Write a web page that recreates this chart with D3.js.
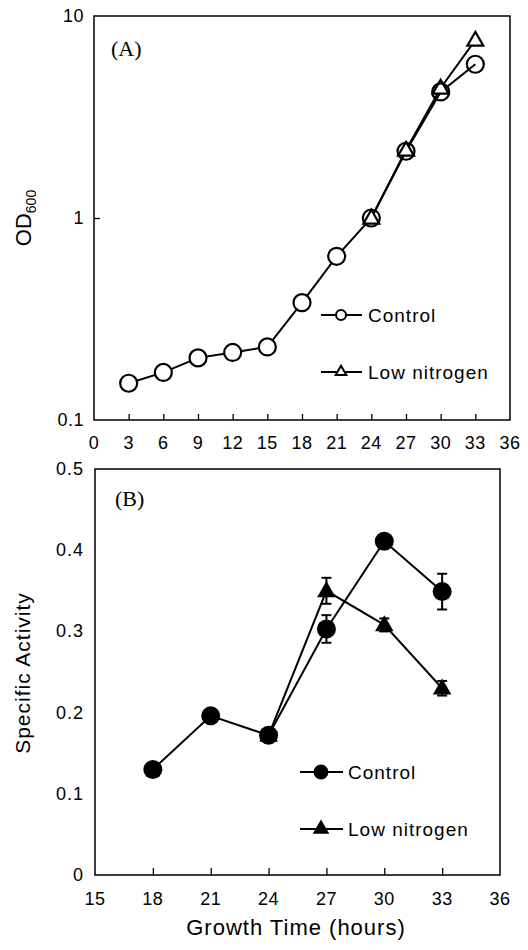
<!DOCTYPE html>
<html><head><meta charset="utf-8">
<script src="https://cdn.jsdelivr.net/npm/d3@7"></script>
<style>body{margin:0;background:#fff}svg{display:block}text{font-family:"Liberation Sans",Arial,sans-serif;fill:#000}</style>
</head><body><svg id="c" width="528" height="950"></svg>
<script>
// Panel A data
const hoursA = [3, 6, 9, 12, 15, 18, 21, 24, 27, 30, 33];
const odControl = [0.152, 0.172, 0.203, 0.216, 0.230, 0.381, 0.646, 1.0, 2.14, 4.21, 5.77];
const hoursALow = [24, 27, 30, 33];
const odLow = [1.0, 2.17, 4.4, 7.6];
const xTicksA = [0, 3, 6, 9, 12, 15, 18, 21, 24, 27, 30, 33, 36];
const yTicksA = [0.1, 1, 10];
// Panel B data
const hoursB = [18, 21, 24, 27, 30, 33];
const actControl = [0.130, 0.196, 0.172, 0.303, 0.411, 0.349];
const errControl = [0.006, 0.004, 0.005, 0.017, 0.004, 0.022];
const hoursBLow = [24, 27, 30, 33];
const actLow = [0.172, 0.350, 0.308, 0.230];
const errLow = [0.004, 0.016, 0.008, 0.009];
const xTicksB = [15, 18, 21, 24, 27, 30, 33, 36];
const yTicksB = [0, 0.1, 0.2, 0.3, 0.4, 0.5];

const svg = d3.select("#c");
const LS = "letter-spacing:0.5px";

// ---------- Panel A ----------
const A = {l: 94, r: 510, t: 16, b: 420};
const xA = d3.scaleLinear().domain([0, 36]).range([A.l, A.r]);
const yA = d3.scaleLog().domain([0.1, 10]).range([A.b, A.t]);
const gA = svg.append("g");
gA.append("rect").attr("x", A.l).attr("y", A.t).attr("width", A.r - A.l).attr("height", A.b - A.t)
  .attr("fill", "none").attr("stroke", "#000").attr("stroke-width", 1.5);
gA.append("g").attr("transform", `translate(0,${A.b})`)
  .call(d3.axisTop(xA).tickValues(xTicksA.filter(d => d > 0 && d < 36)).tickSize(6).tickFormat(""))
  .call(g => g.select(".domain").remove())
  .call(g => g.selectAll("line").attr("stroke-width", 1.3));
gA.selectAll(".xla").data(xTicksA).join("text").attr("class", "xla")
  .attr("x", d => xA(d)).attr("y", A.b + 29).attr("text-anchor", "middle").attr("font-size", 18).attr("style", LS).text(d => d);
gA.append("g").attr("transform", `translate(${A.l},0)`)
  .call(d3.axisRight(yA).tickValues([1]).tickSize(6).tickFormat(""))
  .call(g => g.select(".domain").remove())
  .call(g => g.selectAll("line").attr("stroke-width", 1.3));
gA.selectAll(".yla").data(yTicksA).join("text").attr("class", "yla")
  .attr("x", A.l - 10).attr("y", d => yA(d) + 6).attr("text-anchor", "end").attr("font-size", 18).attr("style", LS).text(d => d);
const tA = gA.append("text").attr("transform", `translate(31,218) rotate(-90)`).attr("text-anchor", "middle").attr("font-size", 22);
tA.append("tspan").text("OD");
tA.append("tspan").attr("font-size", 14).attr("dy", 5).text("600");
gA.append("text").attr("x", 111).attr("y", 56).attr("style", "font-family:'Liberation Serif',serif").attr("font-size", 22).text("(A)");

const lineA = d3.line().x(d => xA(d[0])).y(d => yA(d[1]));
const ctlA = hoursA.map((h, i) => [h, odControl[i]]);
const lowA = hoursALow.map((h, i) => [h, odLow[i]]);
gA.append("path").attr("d", lineA(lowA)).attr("fill", "none").attr("stroke", "#000").attr("stroke-width", 2);
gA.append("path").attr("d", lineA(ctlA)).attr("fill", "none").attr("stroke", "#000").attr("stroke-width", 2);
const triA = d3.symbol().type(d3.symbolTriangle).size(110);
gA.selectAll(".tA").data(lowA).join("path").attr("class", "tA")
  .attr("transform", d => `translate(${xA(d[0])},${yA(d[1]) + 1})`).attr("d", triA())
  .attr("fill", "#fff").attr("stroke", "#000").attr("stroke-width", 2.2);
gA.selectAll(".cA").data(ctlA).join("circle").attr("class", "cA")
  .attr("cx", d => xA(d[0])).attr("cy", d => yA(d[1])).attr("r", 8.5)
  .attr("fill", d => d[0] >= 24 ? "none" : "#fff").attr("stroke", "#000").attr("stroke-width", 2.2);
const legA = [{y: 315, label: "Control", kind: "c"}, {y: 372, label: "Low nitrogen", kind: "t"}];
legA.forEach(e => {
  gA.append("line").attr("x1", 321).attr("x2", 362).attr("y1", e.y).attr("y2", e.y).attr("stroke", "#000").attr("stroke-width", 2);
  if (e.kind === "c") gA.append("circle").attr("cx", 341).attr("cy", e.y).attr("r", 5).attr("fill", "#fff").attr("stroke", "#000").attr("stroke-width", 2);
  else gA.append("path").attr("transform", `translate(341,${e.y})`).attr("d", d3.symbol().type(d3.symbolTriangle).size(50)()).attr("fill", "#fff").attr("stroke", "#000").attr("stroke-width", 2);
  gA.append("text").attr("x", 368).attr("y", e.y + 7).attr("font-size", 19).attr("style", "letter-spacing:1px").text(e.label);
});

// ---------- Panel B ----------
const B = {l: 95, r: 500, t: 469, b: 875};
const xB = d3.scaleLinear().domain([15, 36]).range([B.l, B.r]);
const yB = d3.scaleLinear().domain([0, 0.5]).range([B.b, B.t]);
const gB = svg.append("g");
gB.append("rect").attr("x", B.l).attr("y", B.t).attr("width", B.r - B.l).attr("height", B.b - B.t)
  .attr("fill", "none").attr("stroke", "#000").attr("stroke-width", 1.5);
gB.append("g").attr("transform", `translate(0,${B.b})`)
  .call(d3.axisTop(xB).tickValues(xTicksB.filter(d => d > 15 && d < 36)).tickSize(7).tickFormat(""))
  .call(g => g.select(".domain").remove())
  .call(g => g.selectAll("line").attr("stroke-width", 1.3));
gB.selectAll(".xlb").data(xTicksB).join("text").attr("class", "xlb")
  .attr("x", d => xB(d)).attr("y", B.b + 30).attr("text-anchor", "middle").attr("font-size", 18).attr("style", LS).text(d => d);
gB.selectAll(".ylb").data(yTicksB).join("text").attr("class", "ylb")
  .attr("x", B.l - 11).attr("y", d => yB(d) + 6).attr("text-anchor", "end").attr("font-size", 18).attr("style", "letter-spacing:1px").text(d => d === 0 ? "0" : d.toFixed(1));
gB.append("text").attr("transform", `translate(30,673) rotate(-90)`).attr("text-anchor", "middle").attr("font-size", 21).attr("style", "letter-spacing:1px").text("Specific Activity");
gB.append("text").attr("x", 296).attr("y", 935).attr("text-anchor", "middle").attr("font-size", 22).attr("style", "letter-spacing:1px").text("Growth Time (hours)");
gB.append("text").attr("x", 115).attr("y", 506).attr("style", "font-family:'Liberation Serif',serif").attr("font-size", 22).text("(B)");

const lineB = d3.line().x(d => xB(d[0])).y(d => yB(d[1]));
const ctlB = hoursB.map((h, i) => [h, actControl[i], errControl[i]]);
const lowB = hoursBLow.map((h, i) => [h, actLow[i], errLow[i]]);
[ctlB, lowB].forEach(s => {
  gB.append("path").attr("d", lineB(s)).attr("fill", "none").attr("stroke", "#000").attr("stroke-width", 2);
  const eb = gB.append("g");
  s.forEach(d => {
    const x = xB(d[0]), y1 = yB(d[1] - d[2]), y2 = yB(d[1] + d[2]);
    eb.append("line").attr("x1", x).attr("x2", x).attr("y1", y1).attr("y2", y2).attr("stroke", "#000").attr("stroke-width", 2);
    eb.append("line").attr("x1", x - 5).attr("x2", x + 5).attr("y1", y1).attr("y2", y1).attr("stroke", "#000").attr("stroke-width", 2);
    eb.append("line").attr("x1", x - 5).attr("x2", x + 5).attr("y1", y2).attr("y2", y2).attr("stroke", "#000").attr("stroke-width", 2);
  });
});
gB.selectAll(".cB").data(ctlB).join("circle").attr("class", "cB")
  .attr("cx", d => xB(d[0])).attr("cy", d => yB(d[1])).attr("r", 9.5).attr("fill", "#000");
gB.selectAll(".tB").data(lowB).join("path").attr("class", "tB")
  .attr("transform", d => `translate(${xB(d[0])},${yB(d[1]) + 1})`).attr("d", d3.symbol().type(d3.symbolTriangle).size(150)()).attr("fill", "#000");
const legB = [{y: 772, label: "Control", kind: "c"}, {y: 829, label: "Low nitrogen", kind: "t"}];
legB.forEach(e => {
  gB.append("line").attr("x1", 300).attr("x2", 343).attr("y1", e.y).attr("y2", e.y).attr("stroke", "#000").attr("stroke-width", 2);
  if (e.kind === "c") gB.append("circle").attr("cx", 321).attr("cy", e.y).attr("r", 7.5).attr("fill", "#000");
  else gB.append("path").attr("transform", `translate(321,${e.y})`).attr("d", d3.symbol().type(d3.symbolTriangle).size(120)()).attr("fill", "#000");
  gB.append("text").attr("x", 348).attr("y", e.y + 7).attr("font-size", 19).attr("style", "letter-spacing:1px").text(e.label);
});
</script></body></html>
